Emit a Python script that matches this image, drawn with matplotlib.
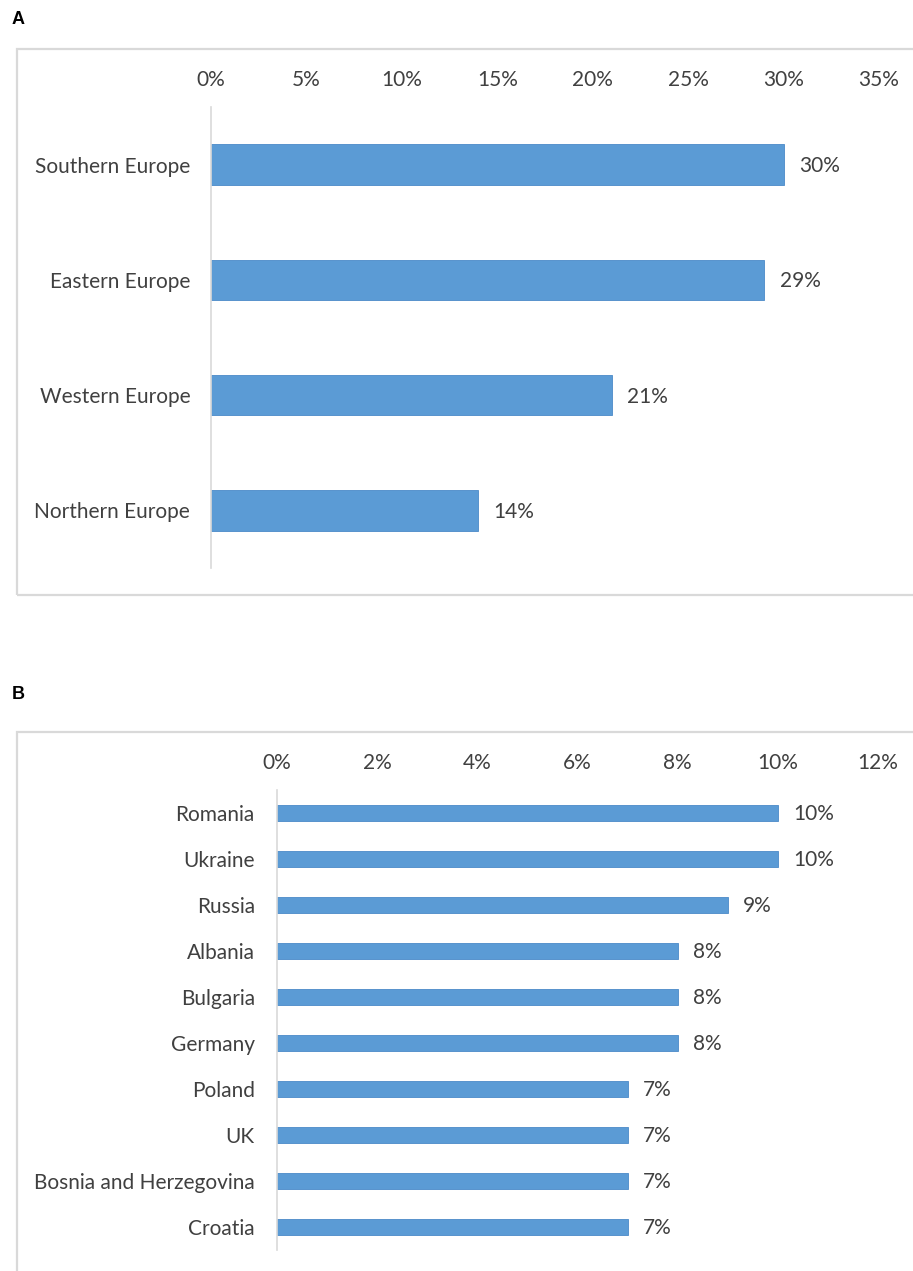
import matplotlib
matplotlib.use("Agg")
import matplotlib.pyplot as plt
from matplotlib.patches import Rectangle
from matplotlib.ticker import FuncFormatter

plt.rcParams['font.family'] = ['Lato', 'DejaVu Sans']

# Panel A data
regions = ["Southern Europe", "Eastern Europe", "Western Europe", "Northern Europe"]
region_values = [30, 29, 21, 14]
region_ticks = [0, 5, 10, 15, 20, 25, 30, 35]

# Panel B data
countries = ["Romania", "Ukraine", "Russia", "Albania", "Bulgaria", "Germany",
             "Poland", "UK", "Bosnia and Herzegovina", "Croatia"]
country_values = [10, 10, 9, 8, 8, 8, 7, 7, 7, 7]
country_ticks = [0, 2, 4, 6, 8, 10, 12]

W, H = 913, 1271
fig = plt.figure(figsize=(W / 100, H / 100), dpi=100)

BAR = "#5B9BD5"
TXT = "#404040"
GRID = "#D9D9D9"
FS = 15


def fig_rect(x0, y0, x1, y1):
    return [x0 / W, 1 - y1 / H, (x1 - x0) / W, (y1 - y0) / H]


def frame(x0, y0, x1, y1):
    r = Rectangle((x0 / W, 1 - y1 / H), (x1 - x0) / W, (y1 - y0) / H,
                  transform=fig.transFigure, fill=False, edgecolor=GRID,
                  linewidth=1.6, zorder=0)
    fig.patches.append(r)


def panel(rect, cats, vals, ticks, height, lpad, vpad):
    ax = fig.add_axes(rect)
    y = list(range(len(cats)))
    ax.barh(y, vals, height=height, color=BAR, edgecolor="#4A8AC8", linewidth=0.6)
    ax.set_ylim(len(cats) - 0.5, -0.5)
    ax.set_xlim(ticks[0], ticks[-1])
    ax.set_xticks(ticks)
    ax.xaxis.set_major_formatter(FuncFormatter(lambda v, p: f"{v:.0f}%"))
    ax.xaxis.tick_top()
    ax.set_yticks(y)
    ax.set_yticklabels(cats)
    ax.tick_params(axis="both", length=0, labelsize=FS, labelcolor=TXT)
    ax.tick_params(axis="x", pad=12)
    ax.tick_params(axis="y", pad=lpad)
    for s in ["top", "right", "bottom"]:
        ax.spines[s].set_visible(False)
    ax.spines["left"].set_color(GRID)
    ax.spines["left"].set_linewidth(1.2)
    ax.patch.set_alpha(0)
    for yi, v in zip(y, vals):
        ax.annotate(f"{v}%", (v, yi), xytext=(vpad, -1), textcoords="offset points",
                    va="center", ha="left", fontsize=FS, color=TXT)
    return ax


frame(17, 49, 930, 595)
frame(17, 732, 930, 1290)

panel(fig_rect(211, 107, 879, 568), regions, region_values, region_ticks, 0.35, 15, 11)
panel(fig_rect(277, 790, 878, 1250), countries, country_values, country_ticks, 0.34, 16, 11)

fig.text(12 / W, 1 - 20 / H, "A", fontsize=13, fontweight="bold",
         family="Liberation Sans", va="center", ha="left", color="black")
fig.text(12 / W, 1 - 695 / H, "B", fontsize=13, fontweight="bold",
         family="Liberation Sans", va="center", ha="left", color="black")

fig.savefig("out.png", dpi=100)
